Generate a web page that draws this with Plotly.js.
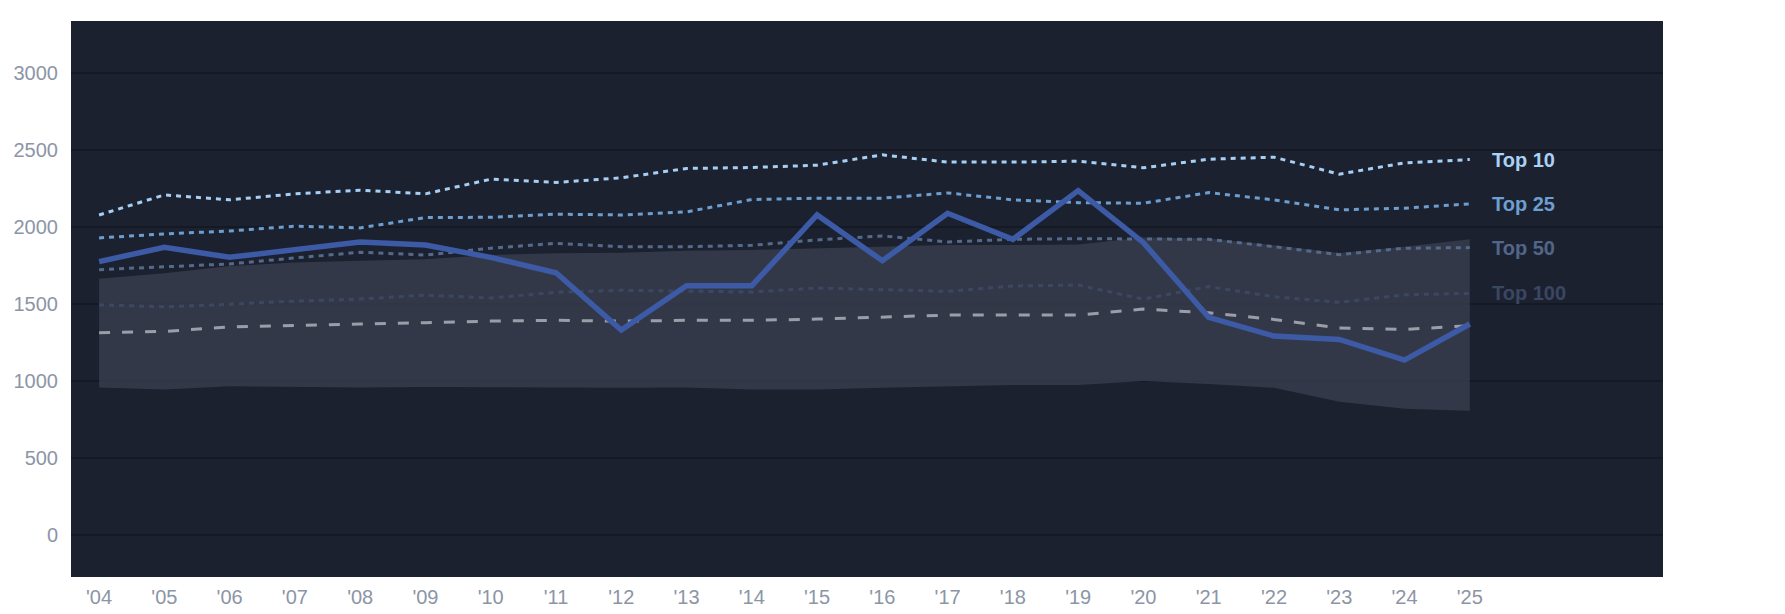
<!DOCTYPE html>
<html>
<head>
<meta charset="utf-8">
<script src="https://cdn.plot.ly/plotly-3.0.1.min.js"></script>
<style>
  html,body{margin:0;padding:0;background:#fff;}
  #chart{width:1785px;height:614px;}
</style>
</head>
<body>
<div id="chart"></div>
<script>
// --------- Datos ---------
const years   = [2004,2005,2006,2007,2008,2009,2010,2011,2012,2013,2014,2015,2016,2017,2018,2019,2020,2021,2022,2023,2024,2025];
const yearLbl = ["'04","'05","'06","'07","'08","'09","'10","'11","'12","'13","'14","'15","'16","'17","'18","'19","'20","'21","'22","'23","'24","'25"];

const top10  = [2077,2207,2175,2214,2238,2214,2309,2288,2318,2379,2385,2400,2467,2420,2420,2426,2383,2439,2452,2342,2415,2437];
const top25  = [1928,1954,1973,2004,1993,2060,2062,2082,2077,2097,2177,2186,2186,2220,2175,2157,2153,2222,2175,2110,2121,2149];
const top50  = [1722,1739,1759,1798,1835,1817,1861,1893,1871,1871,1880,1915,1941,1902,1919,1923,1919,1919,1871,1819,1861,1865];
const top100 = [1494,1481,1497,1518,1531,1557,1538,1575,1588,1583,1577,1603,1594,1581,1616,1622,1531,1612,1546,1510,1559,1568];
const median = [1312,1321,1351,1362,1369,1378,1388,1393,1388,1393,1393,1401,1412,1427,1427,1427,1466,1442,1399,1343,1334,1358];
const main   = [1774,1867,1802,1854,1902,1882,1802,1702,1330,1618,1618,2077,1780,2088,1919,2235,1897,1412,1291,1269,1135,1369];
const bandHi = [1663,1698,1745,1768,1780,1789,1817,1828,1832,1845,1850,1861,1871,1882,1882,1886,1930,1925,1880,1830,1870,1920];
const bandLo = [957,944,965,961,957,961,961,957,955,957,944,944,955,965,974,974,1000,980,955,864,819,806];

const tiers = [
  {name:'Top 10',  y:top10,  color:'#a6cff3', label:'#a9d2f5'},
  {name:'Top 25',  y:top25,  color:'#6c9ed0', label:'#6d9fd0'},
  {name:'Top 50',  y:top50,  color:'#55698b', label:'#516688'},
  {name:'Top 100', y:top100, color:'#3c4763', label:'#3b4662'}
];

// --------- Trazas ---------
const line = (y, color, width, dash) => ({
  x: years, y, type:'scatter', mode:'lines', hoverinfo:'skip',
  line:{color, width, dash}
});

const traces = [
  // banda (inferior invisible + superior rellena)
  {x:years, y:bandLo, type:'scatter', mode:'lines', line:{width:0}, hoverinfo:'skip'},
  {x:years, y:bandHi, type:'scatter', mode:'lines', line:{width:0}, fill:'tonexty',
   fillcolor:'rgba(58,63,79,0.78)', hoverinfo:'skip'},
  line(median, '#9a9ea8', 3, '11px,12px'),
  ...tiers.slice().reverse().map(t => line(t.y, t.color, 3, '5px,5px')),
  line(main, '#3d5aa6', 5.5, 'solid')
];

// etiquetas a la derecha de cada nivel
const annotations = tiers.map(t => ({
  x: years[years.length-1], y: t.y[t.y.length-1],
  xref:'x', yref:'y', xanchor:'left', yanchor:'middle', xshift:20,
  text:'<b>'+t.name+'</b>', showarrow:false,
  font:{family:'Liberation Sans, Arial, sans-serif', size:20, color:t.label}
}));

const layout = {
  width:1785, height:614,
  margin:{l:71, r:122, t:21, b:37},
  paper_bgcolor:'#ffffff', plot_bgcolor:'#1c2130',
  showlegend:false,
  font:{family:'Liberation Sans, Arial, sans-serif', size:20, color:'#8c95a6'},
  xaxis:{
    range:[2003.57, 2027.96], tickvals:years, ticktext:yearLbl,
    showgrid:false, zeroline:false, showline:false, ticks:'',
    ticklabelstandoff:6, fixedrange:true
  },
  yaxis:{
    range:[-273, 3336], tickvals:[0,500,1000,1500,2000,2500,3000],
    gridcolor:'#151924', gridwidth:2, zeroline:false, showline:false, ticks:'',
    ticklabelstandoff:12, fixedrange:true
  },
  annotations
};

Plotly.newPlot('chart', traces, layout, {displayModeBar:false, staticPlot:true});
</script>
</body>
</html>
